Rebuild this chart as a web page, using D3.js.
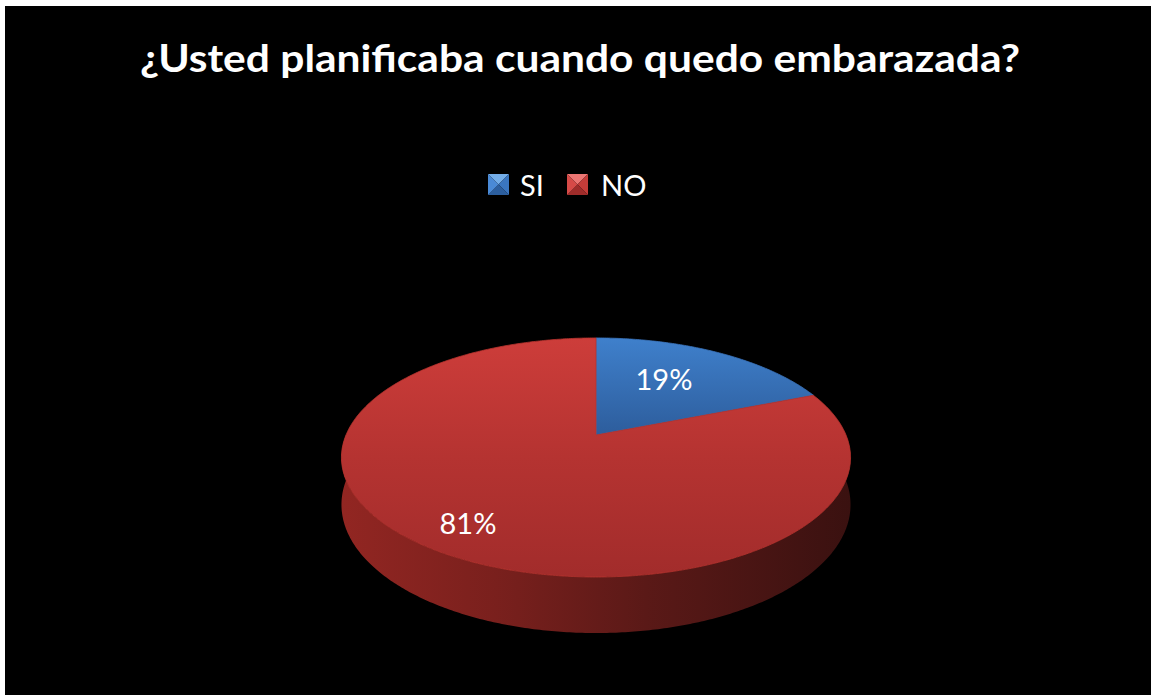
<!DOCTYPE html>
<html><head><meta charset="utf-8">
<script src="https://cdn.jsdelivr.net/npm/d3@7/dist/d3.min.js"></script>
<style>html,body{margin:0;padding:0;background:#fff;}svg{display:block;}</style>
</head><body>
<script>
const titleText = "¿Usted planificaba cuando quedo embarazada?";
const categories = ["SI", "NO"];
const values = [19, 81];
const labels = ["19%", "81%"];

const W = 1151, H = 695;
const svg = d3.select("body").append("svg").attr("width", W).attr("height", H);
svg.append("rect").attr("x", 5).attr("y", 6).attr("width", W - 5).attr("height", H - 6).attr("fill", "#000");

const defs = svg.append("defs");
function lin(id, x1, y1, x2, y2, stops) {
  const g = defs.append("linearGradient").attr("id", id)
    .attr("x1", x1).attr("y1", y1).attr("x2", x2).attr("y2", y2);
  stops.forEach(s => g.append("stop").attr("offset", s[0]).attr("stop-color", s[1]));
}
lin("topSI", 0, 0, 0, 1, [[0, "#3f80cc"], [1, "#2d5d9c"]]);
lin("topNO", 0, 0, 0, 1, [[0, "#cd3d3a"], [0.5, "#b53331"], [1, "#a22c2b"]]);
lin("sideNO", 0, 0, 1, 0, [[0, "#922622"], [0.3, "#7a201d"], [0.6, "#5a1917"], [1, "#3a1110"]]);
lin("sideSI", 0, 0, 1, 0, [[0, "#2a548c"], [1, "#1a3358"]]);

// pseudo-3D projection
const cx = 596, cy = 435, B = 250, A = 115.3, K = 0.188, T = 45.5;
function proj(a, depth) {
  const u = Math.sin(a), v = Math.cos(a);
  const s = 1 / (1 + K * v);
  return [cx + B * u * s, cy - A * v * s + T * s * depth];
}
const pie = d3.pie().sort(null).value(d => d)(values);
const fills = ["SI", "NO"];

function sample(a0, a1) {
  const n = Math.max(2, Math.ceil((a1 - a0) / 0.01));
  return d3.range(n + 1).map(i => a0 + (a1 - a0) * i / n);
}

// sides (front half only)
pie.forEach((p, i) => {
  const a0 = Math.max(p.startAngle, Math.PI / 2), a1 = Math.min(p.endAngle, 3 * Math.PI / 2);
  if (a1 <= a0) return;
  const angs = sample(a0, a1);
  const pts = angs.map(a => proj(a, 0)).concat(angs.slice().reverse().map(a => proj(a, 1)));
  svg.append("path").attr("d", d3.line()(pts) + "Z").attr("fill", `url(#side${fills[i]})`);
});

// top faces
pie.forEach((p, i) => {
  const pts = [[cx, cy]].concat(sample(p.startAngle, p.endAngle).map(a => proj(a, 0)));
  svg.append("path").attr("d", d3.line()(pts) + "Z").attr("fill", `url(#top${fills[i]})`)
    .attr("stroke", i === 0 ? "#3a74bd" : "#b8332f").attr("stroke-width", 0.8).attr("stroke-linejoin", "round");
});

// data labels
const labelPos = [[664, 378], [468, 522]];
labels.forEach((t, i) => {
  svg.append("text").attr("x", labelPos[i][0]).attr("y", labelPos[i][1])
    .attr("text-anchor", "middle").attr("dominant-baseline", "central")
    .attr("font-family", "Lato, 'Open Sans', sans-serif").attr("font-size", 29)
    .attr("fill", "#fff").text(t);
});

// title
svg.append("text").attr("x", 580).attr("y", 72).attr("text-anchor", "middle")
  .attr("font-family", "Lato, 'Open Sans', sans-serif").attr("font-weight", "bold")
  .attr("font-size", 38).attr("fill", "#fff").attr("textLength", 880)
  .attr("lengthAdjust", "spacingAndGlyphs").text(titleText);

// legend
const legCols = {
  SI: ["#74aee9", "#4a8ad6", "#3a76c0", "#2c5f9f"],
  NO: ["#ec7673", "#d64a47", "#c43c39", "#9f2c2a"]
};
const legItems = [{ x: 488, tx: 520, k: "SI" }, { x: 567, tx: 601, k: "NO" }];
legItems.forEach((d, i) => {
  const s = 21, y = 174, x = d.x, c = legCols[categories[i]];
  const m = [x + s / 2, y + s / 2];
  const tri = [
    [[x, y], [x + s, y], m, c[0]],
    [[x + s, y], [x + s, y + s], m, c[2]],
    [[x + s, y + s], [x, y + s], m, c[3]],
    [[x, y + s], [x, y], m, c[1]]
  ];
  tri.forEach(t => svg.append("path").attr("d", d3.line()(t.slice(0, 3)) + "Z").attr("fill", t[3]));
  svg.append("text").attr("x", d.tx).attr("y", 196)
    .attr("font-family", "Lato, 'Open Sans', sans-serif").attr("font-size", 29)
    .attr("fill", "#fff").text(categories[i]);
});
</script>
</body></html>
